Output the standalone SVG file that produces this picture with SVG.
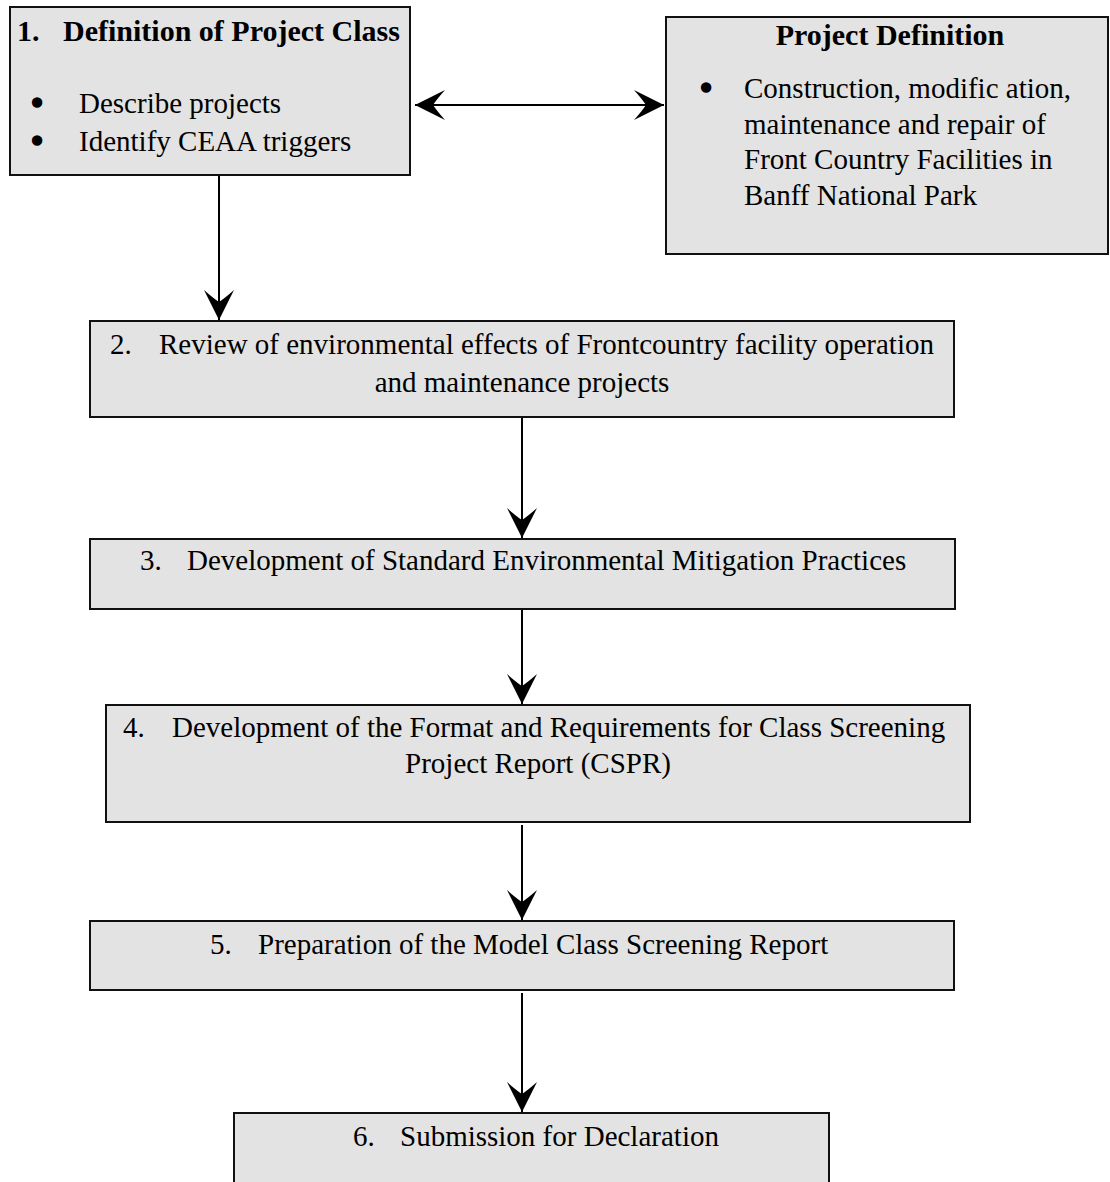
<svg xmlns="http://www.w3.org/2000/svg" width="1110" height="1182" viewBox="0 0 1110 1182">
<style>
.box{fill:#e3e3e3;stroke:#111;stroke-width:2}
.t{font-family:"Liberation Serif","Times New Roman",serif;font-size:29px;fill:#000}
.b{font-weight:bold;font-size:30px}
.c{text-anchor:middle}
.bul{font-family:"Liberation Serif","Times New Roman",serif;font-size:29px;text-anchor:middle;fill:#000;stroke:#000;stroke-width:3.5}
.con{stroke:#000;stroke-width:2;fill:none}
</style>
<defs>
<marker id="ah" markerUnits="userSpaceOnUse" markerWidth="34" markerHeight="34" viewBox="-32 -17 34 34" refX="0" refY="0" orient="auto-start-reverse">
<path d="M0,0 L-30,-15 Q-22,-6 -18,0 Q-22,6 -30,15 Z" fill="#000"/>
</marker>
</defs>
<rect width="1110" height="1182" fill="#fff"/>
<g id="connectors">
<line class="con" x1="415" y1="105" x2="664" y2="105" marker-start="url(#ah)" marker-end="url(#ah)"/>
<line class="con" x1="219" y1="175" x2="219" y2="320" marker-end="url(#ah)"/>
<line class="con" x1="522" y1="417" x2="522" y2="538" marker-end="url(#ah)"/>
<line class="con" x1="522" y1="609" x2="522" y2="704" marker-end="url(#ah)"/>
<line class="con" x1="522" y1="825" x2="522" y2="920" marker-end="url(#ah)"/>
<line class="con" x1="522" y1="993" x2="522" y2="1112" marker-end="url(#ah)"/>
</g>
<g id="node1">
<rect class="box" x="10" y="7" width="400" height="168"/>
<text class="t b" x="17" y="41">1.</text>
<text class="t b" x="63" y="41">Definition of Project Class</text>
<text class="bul" x="37" y="113">•</text>
<text class="t" x="79" y="113">Describe projects</text>
<text class="bul" x="37" y="151">•</text>
<text class="t" x="79" y="151">Identify CEAA triggers</text>
</g>
<g id="projectDefinition">
<rect class="box" x="666" y="17" width="442" height="237"/>
<text class="t b c" x="890" y="45">Project Definition</text>
<text class="bul" x="706" y="98">•</text>
<text class="t" x="744" y="98">Construction, modific ation,</text>
<text class="t" x="744" y="134">maintenance and repair of</text>
<text class="t" x="744" y="169">Front Country Facilities in</text>
<text class="t" x="744" y="205">Banff National Park</text>
</g>
<g id="node2">
<rect class="box" x="90" y="321" width="864" height="96"/>
<text class="t" x="110" y="354">2.</text>
<text class="t" x="159" y="354">Review of environmental effects of Frontcountry facility operation</text>
<text class="t c" x="522" y="392">and maintenance projects</text>
</g>
<g id="node3">
<rect class="box" x="90" y="539" width="865" height="70"/>
<text class="t" x="140" y="570">3.</text>
<text class="t" x="187" y="570">Development of Standard Environmental Mitigation Practices</text>
</g>
<g id="node4">
<rect class="box" x="106" y="705" width="864" height="117"/>
<text class="t" x="123" y="737">4.</text>
<text class="t" x="172" y="737">Development of the Format and Requirements for Class Screening</text>
<text class="t c" x="538" y="773">Project Report (CSPR)</text>
</g>
<g id="node5">
<rect class="box" x="90" y="921" width="864" height="69"/>
<text class="t" x="210" y="954">5.</text>
<text class="t" x="258" y="954">Preparation of the Model Class Screening Report</text>
</g>
<g id="node6">
<rect class="box" x="234" y="1113" width="595" height="100"/>
<text class="t" x="353" y="1146">6.</text>
<text class="t" x="400" y="1146">Submission for Declaration</text>
</g>
</svg>
